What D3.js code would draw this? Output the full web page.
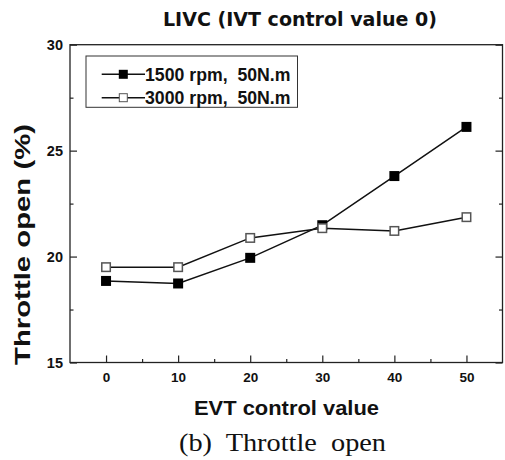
<!DOCTYPE html>
<html><head><meta charset="utf-8">
<script src="https://cdn.jsdelivr.net/npm/d3@7"></script>
<style>body{margin:0;background:#fff}svg{display:block}</style>
</head><body>
<script>
const xValues = [0, 10, 20, 30, 40, 50];
const series1500 = [18.85, 18.73, 19.94, 21.48, 23.80, 26.12];
const series3000 = [19.50, 19.50, 20.88, 21.34, 21.21, 21.86];
const seriesNames = ["1500 rpm,  50N.m", "3000 rpm,  50N.m"];
const xTicks = [0, 10, 20, 30, 40, 50];
const yTicks = [15, 20, 25, 30];
const titleText = "LIVC (IVT control value 0)";
const xTitle = "EVT control value";
const yTitle = "Throttle open (%)";
const caption = "(b)  Throttle  open";

const W = 505, H = 460;
const m = {l: 70, r: 2.5, t: 44.7, b: 97.5};
const svg = d3.select("body").append("svg").attr("width", W).attr("height", H);
const x = d3.scaleLinear().domain([-5, 55]).range([m.l, W - m.r]);
const y = d3.scaleLinear().domain([15, 30]).range([H - m.b, m.t]);
const ink = "#111";
const bold = "'Liberation Sans', Arial, sans-serif";

// frame
svg.append("rect").attr("x", x(-5)).attr("y", y(30)).attr("width", x(55) - x(-5)).attr("height", y(15) - y(30))
  .attr("fill", "none").attr("stroke", "#222").attr("stroke-width", 1.3);

function styleTicks(g) {
  g.select(".domain").remove();
  g.selectAll("line").attr("stroke", "#222").attr("stroke-width", 1.2);
}

// x axis (ticks inside)
const xAxis = d3.axisBottom(x).tickValues(xTicks).tickSize(-7).tickPadding(9.6).tickFormat(d3.format("d"));
const gx = svg.append("g").attr("transform", `translate(0,${y(15)})`).call(xAxis);
styleTicks(gx);
gx.selectAll("text").attr("font-family", bold).attr("font-weight", "bold").attr("font-size", 13.5).attr("fill", ink);
const gxm = svg.append("g").attr("transform", `translate(0,${y(15)})`)
  .call(d3.axisBottom(x).tickValues([5, 15, 25, 35, 45]).tickSize(-3.5).tickFormat(""));
styleTicks(gxm);

// y axis
const yAxis = d3.axisLeft(y).tickValues(yTicks).tickSize(-7).tickPadding(7).tickFormat(d3.format("d"));
const gy = svg.append("g").attr("transform", `translate(${x(-5)},0)`).call(yAxis);
styleTicks(gy);
gy.selectAll("text").attr("font-family", bold).attr("font-weight", "bold").attr("font-size", 14.5).attr("fill", ink);
const gym = svg.append("g").attr("transform", `translate(${x(-5)},0)`)
  .call(d3.axisLeft(y).tickValues([17.5, 22.5, 27.5]).tickSize(-3.5).tickFormat(""));
styleTicks(gym);
// right mirrored ticks
const gyr = svg.append("g").attr("transform", `translate(${x(55)},0)`)
  .call(d3.axisRight(y).tickValues(yTicks).tickSize(-7).tickFormat(""));
styleTicks(gyr);
const gyrm = svg.append("g").attr("transform", `translate(${x(55)},0)`)
  .call(d3.axisRight(y).tickValues([17.5, 22.5, 27.5]).tickSize(-3.5).tickFormat(""));
styleTicks(gyrm);

// lines
const line = d3.line().x((d, i) => x(xValues[i])).y(d => y(d));
svg.append("path").datum(series3000).attr("d", line).attr("fill", "none").attr("stroke", ink).attr("stroke-width", 1.5);
svg.append("path").datum(series1500).attr("d", line).attr("fill", "none").attr("stroke", ink).attr("stroke-width", 1.5);

const s = 10;
svg.append("g").selectAll("rect").data(series1500).join("rect")
  .attr("x", (d, i) => x(xValues[i]) - s / 2).attr("y", d => y(d) - s / 2)
  .attr("width", s).attr("height", s).attr("fill", "#000");
svg.append("g").selectAll("rect").data(series3000).join("rect")
  .attr("x", (d, i) => x(xValues[i]) - s / 2 + 0.75).attr("y", d => y(d) - s / 2 + 0.75)
  .attr("width", s - 1.5).attr("height", s - 1.5).attr("fill", "#fff").attr("stroke", "#555").attr("stroke-width", 1.5);

// legend
const lg = svg.append("g");
lg.append("rect").attr("x", 86).attr("y", 56).attr("width", 211.5).attr("height", 51.3)
  .attr("fill", "#fff").attr("stroke", "#333").attr("stroke-width", 1);
seriesNames.forEach((name, i) => {
  const cy = 74.3 + i * 23.4;
  lg.append("line").attr("x1", 101.7).attr("x2", 145).attr("y1", cy).attr("y2", cy).attr("stroke", ink).attr("stroke-width", 1.5);
  const ms = 9;
  if (i === 0) lg.append("rect").attr("x", 123.3 - ms / 2).attr("y", cy - ms / 2).attr("width", ms).attr("height", ms).attr("fill", "#000");
  else lg.append("rect").attr("x", 123.3 - ms / 2 + 0.5).attr("y", cy - ms / 2 + 0.5).attr("width", ms - 1).attr("height", ms - 1).attr("fill", "#fff").attr("stroke", "#555").attr("stroke-width", 1);
  lg.append("text").attr("x", 145).attr("y", cy + 6.7).text(name)
    .attr("font-family", bold).attr("font-weight", "bold").attr("font-size", 19).attr("fill", ink).style("white-space", "pre")
    .attr("textLength", 145.5).attr("lengthAdjust", "spacingAndGlyphs");
});

// titles
svg.append("text").attr("x", 300).attr("y", 26.3).attr("text-anchor", "middle").text(titleText)
  .attr("font-family", "'DejaVu Sans', Verdana, sans-serif").attr("font-weight", "bold").attr("font-size", 19).attr("fill", ink)
  .attr("textLength", 274).attr("lengthAdjust", "spacingAndGlyphs");
svg.append("text").attr("x", 286.5).attr("y", 415).attr("text-anchor", "middle").text(xTitle)
  .attr("font-family", bold).attr("font-weight", "bold").attr("font-size", 20).attr("fill", ink)
  .attr("textLength", 185).attr("lengthAdjust", "spacingAndGlyphs");
svg.append("text").attr("transform", `translate(30,244.5) rotate(-90)`).attr("text-anchor", "middle").text(yTitle)
  .attr("font-family", bold).attr("font-weight", "bold").attr("font-size", 22).attr("fill", ink)
  .attr("textLength", 241).attr("lengthAdjust", "spacingAndGlyphs");
svg.append("text").attr("x", 282.5).attr("y", 451).attr("text-anchor", "middle").text(caption)
  .attr("font-family", "'Liberation Serif', 'Times New Roman', serif").attr("font-size", 26).attr("fill", ink)
  .style("white-space", "pre").attr("textLength", 207).attr("lengthAdjust", "spacingAndGlyphs");
</script>
</body></html>
